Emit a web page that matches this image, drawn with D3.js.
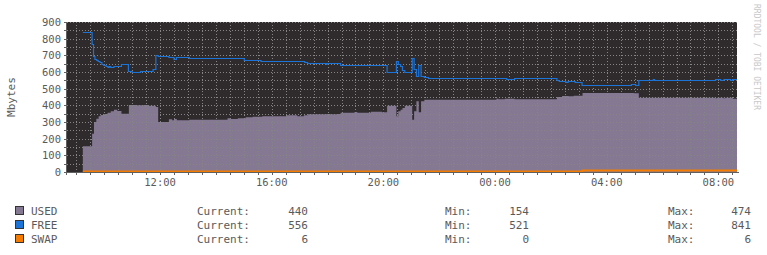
<!DOCTYPE html>
<html>
<head>
<meta charset="utf-8">
<script src="https://cdn.jsdelivr.net/npm/d3@7"></script>
<style>
  body { margin: 0; background: #fff; }
  text { font-family: "DejaVu Sans Mono", monospace; }
</style>
</head>
<body>
<div id="svgContainer"></div>
<script>
// time window shown (24 hours)
var windowStart = "08:40";

// USED (stacked area), step data
var usedTime = ["09:14","09:34","09:38","09:43","09:48","09:52","10:00","10:07","10:14","10:21","10:28","10:37","10:53","11:10","11:25","11:35","11:51","11:56","12:19","12:26","12:30","12:36","13:03","14:25","14:32","14:47","15:04","15:19","15:40","16:31","16:55","17:09","17:18","17:59","18:06","18:20","18:28","18:58","19:04","19:33","19:57","20:08","20:28","20:32","20:37","20:41","20:46","21:02","21:06","21:11","21:16","21:21","21:28","00:03","00:07","00:21","00:42","02:13","02:24","02:38","02:49","03:08","04:59","05:09","07:54","07:57","08:11","08:15","08:31"];
var usedVal  = [154,230,300,320,334,342,348,356,364,374,366,350,402,400,402,398,390,300,316,310,318,310,314,322,318,322,328,332,334,340,334,340,346,348,346,348,356,360,356,362,358,398,334,364,374,384,398,314,364,424,358,424,434,440,436,440,436,450,456,454,458,474,472,446,442,446,442,446,440];

// FREE (line)
var freeTime = ["09:14","09:34","09:37","09:40","09:44","09:47","09:51","09:55","09:59","10:04","10:08","10:11","10:14","10:21","10:37","10:52","11:00","11:18","11:45","11:51","11:56","12:19","12:30","12:35","13:03","15:01","15:37","17:11","17:17","17:57","17:59","18:23","18:28","20:08","20:28","20:32","20:37","20:41","20:46","21:02","21:06","21:11","21:16","21:21","21:28","21:37","00:25","00:42","02:13","02:18","02:32","02:37","02:52","03:07","04:53","05:02","05:09","05:40","05:43","07:54","08:05","08:12","08:26","08:31"];
var freeVal  = [841,770,696,680,670,666,658,650,642,634,630,636,630,634,650,606,598,606,616,700,696,690,680,688,684,672,666,660,656,650,656,652,644,600,666,650,636,614,600,684,616,574,642,574,568,562,558,564,554,548,542,548,540,522,530,522,552,558,552,558,552,558,554,556];

// SWAP (line)
var swapTime = ["09:14","03:08"];
var swapVal  = [0,6];

// axis ticks
var yTicks = [0,100,200,300,400,500,600,700,800,900];
var xTickLabels = ["12:00","16:00","20:00","00:00","04:00","08:00"];

// legend
var legendNames = ["USED","FREE","SWAP"];
var legendColors = ["#857893","#1c74d9","#f57c00"];
var curVals = [440,556,6];
var minVals = [154,521,0];
var maxVals = [474,841,6];

var width = 767, height = 255;
var plot = {left: 67, right: 737, top: 22, bottom: 172};

// turn "HH:MM" lists into Dates, rolling over midnight
function toDates(list, first) {
    var day = 1, prev = first, out = [];
    list.forEach(function(s) {
        var p = s.split(":");
        var d = new Date(2000, 0, day, +p[0], +p[1]);
        if (prev && d < prev) { day++; d = new Date(2000, 0, day, +p[0], +p[1]); }
        out.push(d); prev = d;
    });
    return out;
}
var t0 = toDates([windowStart])[0];
var t1 = new Date(t0.getTime() + 24 * 3600 * 1000);

function series(times, vals) {
    var ds = toDates(times, t0);
    var pts = ds.map(function(d, i) { return {t: d, v: vals[i]}; });
    pts.push({t: t1, v: vals[vals.length - 1]});
    return pts;
}
var used = series(usedTime, usedVal);
var free = series(freeTime, freeVal);
var swap = series(swapTime, swapVal);

var x = d3.scaleTime().domain([t0, t1]).range([plot.left, plot.right]);
var y = d3.scaleLinear().domain([0, 900]).range([plot.bottom, plot.top]);

var svg = d3.select("#svgContainer")
    .append("svg")
    .attr("width", width)
    .attr("height", height);

// plot background
svg.append("rect")
    .attr("x", plot.left).attr("y", plot.top)
    .attr("width", plot.right - plot.left).attr("height", plot.bottom - plot.top)
    .attr("fill", "#2f2b2c");

// USED area
svg.append("path")
    .datum(used)
    .attr("fill", legendColors[0])
    .attr("d", d3.area().curve(d3.curveStepAfter)
        .x(function(d) { return x(d.t); })
        .y0(y(0))
        .y1(function(d) { return y(d.v); }));

// grid (drawn over the area, like rrdtool)
var grid = svg.append("g").attr("stroke", "#858585").attr("stroke-dasharray", "1,2").attr("shape-rendering", "crispEdges");
var halfHours = d3.timeMinute.every(30).range(t0, t1);
halfHours.forEach(function(d) {
    if (+d === +t0) return;
    var xx = Math.round(x(d)) + 0.5;
    grid.append("line").attr("x1", xx).attr("x2", xx).attr("y1", plot.top).attr("y2", plot.bottom);
});
d3.range(50, 901, 50).forEach(function(v) {
    var yy = Math.round(y(v)) + 0.5;
    grid.append("line").attr("x1", plot.left).attr("x2", plot.right).attr("y1", yy).attr("y2", yy);
});

// SWAP line
svg.append("path")
    .datum(swap)
    .attr("fill", "none")
    .attr("stroke", legendColors[2])
    .attr("stroke-width", 2)
    .attr("d", d3.line().curve(d3.curveStepAfter)
        .x(function(d) { return x(d.t); })
        .y(function(d) { return y(d.v) - 0.5; }));

// FREE line
svg.append("path")
    .datum(free)
    .attr("fill", "none")
    .attr("stroke", legendColors[1])
    .attr("stroke-width", 1.2)
    .attr("d", d3.line().curve(d3.curveStepAfter)
        .x(function(d) { return x(d.t); })
        .y(function(d) { return Math.round(y(d.v)) + 0.5; }));

// axes
var axes = svg.append("g").attr("stroke", "#606060").attr("shape-rendering", "crispEdges");
axes.append("line").attr("x1", plot.left - 0.5).attr("x2", plot.left - 0.5).attr("y1", plot.top).attr("y2", plot.bottom + 3);
axes.append("line").attr("x1", plot.left - 3).attr("x2", plot.right + 2).attr("y1", plot.bottom + 0.5).attr("y2", plot.bottom + 0.5);
d3.range(0, 901, 50).forEach(function(v) {
    var yy = Math.round(y(v)) + 0.5;
    axes.append("line").attr("x1", plot.left - 3).attr("x2", plot.left).attr("y1", yy).attr("y2", yy);
});
halfHours.forEach(function(d) {
    var xx = Math.round(x(d)) + 0.5;
    axes.append("line").attr("x1", xx).attr("x2", xx).attr("y1", plot.bottom).attr("y2", plot.bottom + 3);
});

// y tick labels
svg.append("g").selectAll("text")
    .data(yTicks)
    .join("text")
    .attr("x", 61)
    .attr("y", function(d) { return y(d) + 4; })
    .attr("text-anchor", "end")
    .attr("font-size", 10.5)
    .attr("fill", "#5a5a5a")
    .text(function(d) { return d; });

// x tick labels
var labelDates = toDates(xTickLabels, new Date(2000, 0, 1, 9, 0));
svg.append("g").selectAll("text")
    .data(labelDates)
    .join("text")
    .attr("x", function(d) { return x(d); })
    .attr("y", 186)
    .attr("text-anchor", "middle")
    .attr("font-size", 10.5)
    .attr("fill", "#5a5a5a")
    .text(function(d, i) { return xTickLabels[i]; });

// vertical axis title
svg.append("text")
    .attr("transform", "translate(15,97) rotate(-90)")
    .attr("text-anchor", "middle")
    .attr("font-size", 11)
    .attr("fill", "#5a5a5a")
    .text("Mbytes");

// watermark
svg.append("text")
    .attr("transform", "translate(754,4) rotate(90)")
    .attr("font-size", 8)
    .attr("fill", "#c8c8c8")
    .text("RRDTOOL / TOBI OETIKER");

// legend
var leg = svg.append("g").attr("font-size", 11).attr("fill", "#5a5a5a");
legendNames.forEach(function(name, i) {
    var cy = 211 + i * 14;
    leg.append("rect")
        .attr("x", 15.5).attr("y", cy - 4.5)
        .attr("width", 8).attr("height", 8)
        .attr("fill", legendColors[i])
        .attr("stroke", "#333");
    leg.append("text").attr("x", 31).attr("y", cy + 4).text(name);
    leg.append("text").attr("x", 197).attr("y", cy + 4).text("Current:");
    leg.append("text").attr("x", 308).attr("y", cy + 4).attr("text-anchor", "end").text(curVals[i]);
    leg.append("text").attr("x", 445).attr("y", cy + 4).text("Min:");
    leg.append("text").attr("x", 529).attr("y", cy + 4).attr("text-anchor", "end").text(minVals[i]);
    leg.append("text").attr("x", 668).attr("y", cy + 4).text("Max:");
    leg.append("text").attr("x", 751).attr("y", cy + 4).attr("text-anchor", "end").text(maxVals[i]);
});
</script>
</body>
</html>
